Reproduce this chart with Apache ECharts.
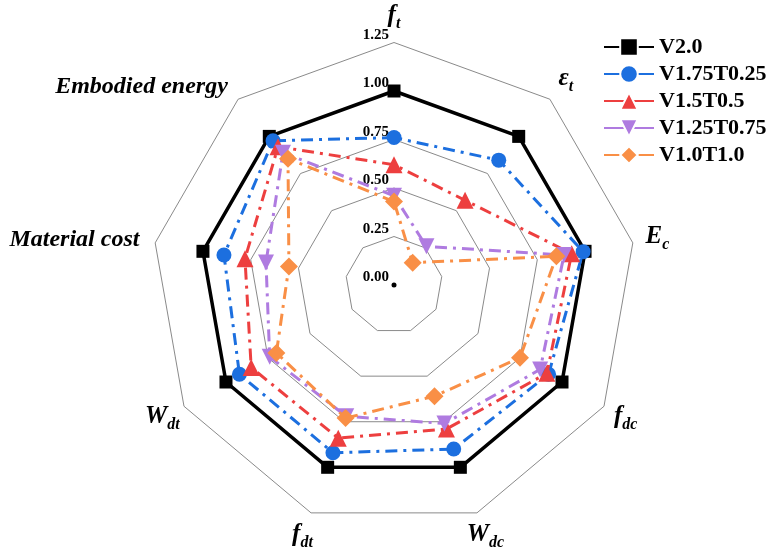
<!DOCTYPE html>
<html>
<head>
<meta charset="utf-8">
<script src="https://cdn.jsdelivr.net/npm/echarts@6/dist/echarts.min.js"></script>
<style>
  html, body { margin: 0; padding: 0; background: #fff; }
  #chart { width: 767px; height: 555px; }
</style>
</head>
<body>
<div id="chart"></div>
<script>
// Indicators, listed clockwise starting from the top axis
const indicatorKeys = ['f_t', 'eps_t', 'E_c', 'f_dc', 'W_dc', 'f_dt', 'W_dt', 'Material cost', 'Embodied energy'];
const tickLabels = ['0.00', '0.25', '0.50', '0.75', '1.00', '1.25'];
const seriesNames = ['V2.0', 'V1.75T0.25', 'V1.5T0.5', 'V1.25T0.75', 'V1.0T1.0'];

// Normalised values per mix, same clockwise order as indicatorKeys
const v20     = [1.00, 1.00, 1.00, 1.00, 1.00, 1.00, 1.00, 1.00, 1.00];
const v175t25 = [0.76, 0.84, 0.99, 0.92, 0.90, 0.92, 0.92, 0.89, 0.97];
const v15t5   = [0.62, 0.57, 0.93, 0.91, 0.79, 0.84, 0.85, 0.78, 0.93];
const v125t75 = [0.46, 0.26, 0.89, 0.87, 0.76, 0.72, 0.74, 0.67, 0.89];
const v10t10  = [0.43, 0.15, 0.85, 0.75, 0.61, 0.73, 0.70, 0.55, 0.85];

const seriesValues = [v20, v175t25, v15t5, v125t75, v10t10];
const colors = ['#000000', '#1c6fdf', '#ed3f3f', '#af7be0', '#f98f46'];
const symbols = ['rect', 'circle', 'triangle', 'path://M0,0L2,0L1,1.732Z', 'diamond'];
const symbolSizes = [13, 15, 17, 16, 18];

const SERIF = '"Liberation Serif", "Times New Roman", serif';
const CX = 394, CY = 285, R = 242.5;

// ECharts lays radar axes out counter-clockwise; flip the order after the first axis
const ccw = arr => [arr[0]].concat(arr.slice(1).reverse());

// Rich-text names with subscripts
const nameRich = {
  'f_t': '{m|f}{s|t}',
  'eps_t': '{m|ε}{s|t}',
  'E_c': '{m|E}{s|c}',
  'f_dc': '{m|f}{s|dc}',
  'W_dc': '{m|W}{s|dc}',
  'f_dt': '{m|f}{s|dt}',
  'W_dt': '{m|W}{s|dt}',
  'Material cost': '{p|Material cost}',
  'Embodied energy': '{p|Embodied energy}'
};
const nameFont = { fontFamily: SERIF, fontStyle: 'italic', fontWeight: 'bold', fill: '#000' };
const richStyles = {
  m: Object.assign({ fontSize: 25, lineHeight: 26, verticalAlign: 'top' }, nameFont),
  s: Object.assign({ fontSize: 16, padding: [13, 0, 0, 0] }, nameFont),
  p: Object.assign({ fontSize: 24 }, nameFont)
};

// Scale labels, shown on the top spoke only, sitting just above each ring
const tickLabelStyle = {
  showMinLabel: true,
  showMaxLabel: true,
  fontFamily: SERIF,
  fontWeight: 'bold',
  fontSize: 15,
  color: '#000',
  margin: 5,
  verticalAlign: 'bottom',
  formatter: (v) => tickLabels[Math.round(v / 0.25)]
};

const indicators = ccw(indicatorKeys).map((k, i) => ({
  name: k,
  min: 0,
  max: 1.25,
  axisLabel: i === 0 ? Object.assign({ show: true }, tickLabelStyle) : { show: false }
}));

// Axis titles sit just outside the outer ring, along each spoke
const nameGraphics = indicatorKeys.map((k, i) => {
  const a = i * 2 * Math.PI / indicatorKeys.length;
  const isLong = k.indexOf('_') < 0;
  const gap = isLong ? 16 : 25;
  return {
    type: 'text',
    x: CX + (R + gap) * Math.sin(a),
    y: CY - (R + gap) * Math.cos(a),
    z: 10,
    style: {
      text: nameRich[k],
      rich: richStyles,
      fontFamily: SERIF,
      fontSize: 24,
      align: isLong ? 'right' : 'center',
      verticalAlign: 'middle'
    }
  };
});

const chart = echarts.init(document.getElementById('chart'), null, { renderer: 'canvas' });

const radarSeries = seriesNames.map((name, i) => ({
  type: 'radar',
  name: name,
  z: 2 + i,
  symbol: symbols[i],
  symbolSize: symbolSizes[i],
  lineStyle: {
    color: colors[i],
    width: i === 0 ? 3.5 : 3,
    type: i === 0 ? 'solid' : [12, 6, 3, 6]
  },
  itemStyle: { color: colors[i] },
  data: [{ name: name, value: ccw(seriesValues[i]) }]
}));

// Empty line series only supply the line-with-marker legend icons
const legendSeries = seriesNames.map((name, i) => ({
  type: 'line',
  name: name,
  data: [],
  symbol: symbols[i],
  symbolSize: symbolSizes[i],
  lineStyle: { color: colors[i], width: 3, type: 'solid' },
  itemStyle: { color: colors[i] }
}));

chart.setOption({
  animation: false,
  backgroundColor: '#fff',
  grid: { show: false, left: 0, top: 0, width: 1, height: 1 },
  xAxis: { show: false, type: 'category' },
  yAxis: { show: false, type: 'value' },
  legend: {
    orient: 'vertical',
    left: 603,
    top: 36,
    padding: 0,
    itemWidth: 50,
    itemHeight: 22,
    itemGap: 5,
    data: seriesNames,
    itemStyle: { borderColor: '#fff', borderWidth: 2 },
    textStyle: { fontFamily: SERIF, fontWeight: 'bold', fontSize: 22, color: '#000' }
  },
  radar: {
    center: [CX, CY],
    radius: R,
    startAngle: 90,
    shape: 'polygon',
    splitNumber: 5,
    indicator: indicators,
    axisName: { show: false },
    axisLine: { show: false },
    axisTick: { show: false },
    axisLabel: Object.assign({ show: false }, tickLabelStyle),
    splitLine: { lineStyle: { color: '#8a8a8a', width: 1 } },
    splitArea: { show: false }
  },
  graphic: [{
    type: 'circle',
    shape: { cx: CX, cy: CY, r: 2.5 },
    style: { fill: '#000' },
    z: 1
  }].concat(nameGraphics),
  series: legendSeries.concat(radarSeries)
});
</script>
</body>
</html>
